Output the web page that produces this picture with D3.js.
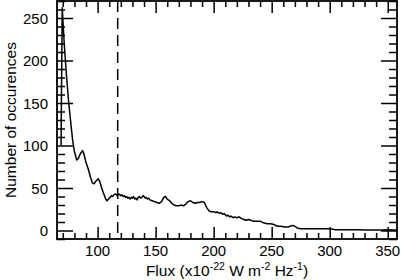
<!DOCTYPE html>
<html>
<head>
<meta charset="utf-8">
<script src="https://cdn.jsdelivr.net/npm/d3@7"></script>
<style>
  body { margin: 0; background: #fff; }
  text { font-family: "Liberation Sans", Arial, Helvetica, sans-serif; fill: #000; }
</style>
</head>
<body>
<svg id="flux_viz"></svg>
<script>
// Histogram: flux bin vs count
const flux = [68.5, 69.5, 71, 73, 75, 77, 78.5, 80, 82, 83.5, 85, 87, 88, 90, 92, 94, 95.5, 97, 98.5,
    100.5, 102, 103.5, 105, 107, 108, 110, 112, 113, 114, 115.5, 117, 118.5, 120, 121, 122, 123, 124,
    125, 126, 127, 128, 129, 130, 131, 132, 133, 134, 135, 136, 137, 138, 139.5, 141, 142, 143, 144,
    145, 147, 149, 151, 153, 155, 157, 158.5, 160, 162, 164, 166, 168, 170, 172, 174, 176, 178, 180,
    182, 184, 186, 188, 190, 192, 194, 196, 198, 200, 202, 203, 205, 206, 208, 209, 211, 212, 214, 215,
    217, 218, 220, 222, 224, 226, 228, 230, 232, 234, 237, 240, 243, 246, 249, 252, 255, 258, 261,
    264, 266, 268, 270, 272, 275, 280, 285, 290, 295, 300, 305, 310, 315, 320, 325, 330, 335, 340, 345,
    350, 355, 358];
const counts = [100, 262, 225, 185, 152, 125, 106, 93, 83, 85, 90, 94, 91, 80, 72, 62, 56, 55, 58,
    61, 57, 50, 44, 37, 35, 38, 41, 40, 42, 43, 41, 43, 41, 42, 40, 41, 39,
    40, 38, 39, 37, 39, 38, 40, 37, 38, 36, 39, 40, 38, 39, 41, 38, 39, 37, 38,
    36, 35, 34, 33, 32, 34, 39, 40, 37, 35, 32, 30, 29, 29, 30, 29, 31, 34, 35,
    33, 32, 33, 33, 34, 33, 27, 23, 22, 22, 21, 22, 20, 21, 19, 20, 17, 18, 16,
    17, 15, 16, 15, 16, 14, 13, 12, 13, 12, 11, 11, 11, 9, 8, 8, 7, 5, 5, 4,
    4, 5, 6, 5, 3, 2, 2, 2, 2, 2, 2, 1, 1, 1, 1, 1, 0.5, 0.5, 0.5, 0.5,
    1, 0.5, 0.5];

// Dashed marker and tick labels
const markerFlux = 117.3;
const xMajor = [100, 150, 200, 250, 300, 350];
const xMinor = d3.range(70, 360, 10);
const yMajor = [0, 50, 100, 150, 200, 250];
const yMinor = d3.range(-10, 271, 10);

const dims = { width: 401, height: 280, left: 57, right: 397, top: 1, bottom: 239 };

function chart(id) {
    const svg = d3.select('#' + id)
        .attr("width", dims.width)
        .attr("height", dims.height);

    const x = d3.scaleLinear().domain([65, 358]).range([dims.left, dims.right]);
    const y = d3.scaleLinear().domain([-10, 270]).range([dims.bottom, dims.top]);

    // helper to draw a set of ticks, no domain line
    const ticks = (axis, vals, size, tr) => {
        const g = svg.append("g")
            .attr("transform", tr)
            .call(axis.tickValues(vals).tickSize(size).tickSizeOuter(0).tickFormat(""));
        g.select(".domain").remove();
        g.selectAll("line").attr("stroke", "#000").attr("stroke-width", 1.5);
        return g;
    };

    // bottom and top ticks (pointing inward)
    const minX = xMinor.filter(v => v % 50 != 0);
    const minY = yMinor.filter(v => v % 50 != 0);
    ticks(d3.axisTop(x), xMajor, 12, `translate(0,${dims.bottom})`);
    ticks(d3.axisTop(x), minX, 6, `translate(0,${dims.bottom})`);
    ticks(d3.axisBottom(x), xMajor, 12, `translate(0,${dims.top})`);
    ticks(d3.axisBottom(x), minX, 6, `translate(0,${dims.top})`);

    // left and right ticks
    ticks(d3.axisRight(y), yMajor, 16, `translate(${dims.left},0)`);
    ticks(d3.axisRight(y), minY, 8, `translate(${dims.left},0)`);
    ticks(d3.axisLeft(y), yMajor, 16, `translate(${dims.right},0)`);
    ticks(d3.axisLeft(y), minY, 8, `translate(${dims.right},0)`);

    // tick labels
    svg.append("g").selectAll("text").data(xMajor).join("text")
        .attr("x", d => x(d)).attr("y", 256)
        .attr("text-anchor", "middle").attr("font-size", 15)
        .text(d => d);
    svg.append("g").selectAll("text").data(yMajor).join("text")
        .attr("x", 48).attr("y", d => y(d) + 5.5)
        .attr("text-anchor", "end").attr("font-size", 15)
        .text(d => d);

    // frame
    svg.append("rect")
        .attr("x", dims.left).attr("y", dims.top)
        .attr("width", dims.right - dims.left).attr("height", dims.bottom - dims.top)
        .attr("fill", "none").attr("stroke", "#000").attr("stroke-width", 1.8);

    // dashed marker
    svg.append("line")
        .attr("x1", x(markerFlux)).attr("x2", x(markerFlux))
        .attr("y1", dims.top).attr("y2", dims.bottom)
        .attr("stroke", "#000").attr("stroke-width", 1.5)
        .attr("stroke-dasharray", "11,6");

    // the histogram line
    const line = d3.line()
        .x((d, i) => x(flux[i]))
        .y(d => y(d));
    svg.append("path")
        .datum(counts)
        .attr("fill", "none")
        .attr("stroke", "#000")
        .attr("stroke-width", 1.5)
        .attr("stroke-linejoin", "round")
        .attr("d", line);

    // axis titles
    const xt = svg.append("text")
        .attr("x", (dims.left + dims.right) / 2).attr("y", 276)
        .attr("text-anchor", "middle").attr("font-size", 15.5);
    xt.append("tspan").text("Flux (x10");
    xt.append("tspan").attr("dy", -6).attr("font-size", 10.5).text("-22");
    xt.append("tspan").attr("dy", 6).text(" W m");
    xt.append("tspan").attr("dy", -6).attr("font-size", 10.5).text("-2");
    xt.append("tspan").attr("dy", 6).text(" Hz");
    xt.append("tspan").attr("dy", -6).attr("font-size", 10.5).text("-1");
    xt.append("tspan").attr("dy", 6).text(")");

    svg.append("text")
        .attr("transform", `translate(16,${(dims.top + dims.bottom) / 2}) rotate(-90)`)
        .attr("text-anchor", "middle").attr("font-size", 15.5)
        .text("Number of occurences");
}

chart("flux_viz");
</script>
</body>
</html>
